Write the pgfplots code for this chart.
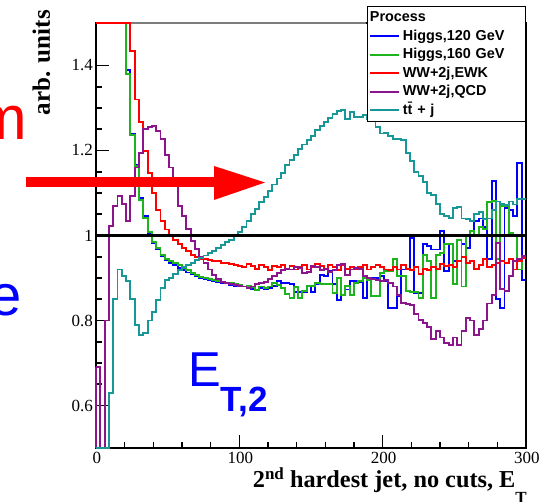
\documentclass[border=0pt]{standalone}
\usepackage{fontspec}
\setmainfont{Liberation Serif}
\newfontfamily\sansfont{Liberation Sans}
\usepackage{pgfplots}
\usepackage{pgfplotstable}
\pgfplotsset{compat=1.18}

\definecolor{hblue}{RGB}{0,0,255}
\definecolor{hgreen}{RGB}{30,180,30}
\definecolor{ewkred}{RGB}{255,0,0}
\definecolor{qcdpurple}{RGB}{140,20,140}
\definecolor{ttteal}{RGB}{25,150,150}
\definecolor{framegray}{RGB}{125,125,125}

% ratio to the reference shape, 3 GeV bins; values beyond the range sit on the frame
\pgfplotstableread{
x   blue   green  red    purple teal
0   1.5    1.5    1.5    0.69   0.5
3   1.5    1.5    1.5    0.5    0.5
6   1.5    1.5    1.5    0.80   0.5
9   1.5    1.5    1.5    1.022  0.63
12  1.5    1.5    1.5    1.069  0.85
15  1.5    1.5    1.5    1.093  0.92
18  1.5    1.5    1.5    1.075  0.905
21  1.39   1.379  1.5    1.034  0.893
24  1.24   1.236  1.434  1.093  0.85
27  1.167  1.164  1.32   1.16   0.79
30  1.088  1.083  1.266  1.195  0.765
33  1.045  1.042  1.198  1.25   0.77
36  1.006  1.008  1.147  1.256  0.80
39  0.983  0.985  1.10   1.258  0.82
42  0.968  0.97   1.061  1.246  0.849
45  0.952  0.955  1.034  1.226  0.876
48  0.942  0.944  1.014  1.19   0.895
51  0.936  0.94   0.998  1.16   0.90
54  0.93   0.935  0.99   1.12   0.91
57  0.924  0.93   0.98   1.07   0.918
60  0.918  0.924  0.971  1.045  0.925
63  0.913  0.918  0.963  1.015  0.93
66  0.909  0.912  0.955  0.988  0.936
69  0.905  0.908  0.95   0.968  0.942
72  0.901  0.903  0.945  0.95   0.948
75  0.897  0.90   0.945  0.935  0.953
78  0.894  0.897  0.942  0.92   0.958
81  0.892  0.895  0.94   0.907  0.963
84  0.89   0.893  0.94   0.897  0.97
87  0.889  0.891  0.936  0.89   0.977
90  0.887  0.889  0.936  0.888  0.984
93  0.884  0.888  0.933  0.886  0.99
96  0.882  0.886  0.93   0.884  0.998
99  0.88   0.883  0.928  0.882  1.008
102 0.88   0.88   0.925  0.88   1.02
105 0.878  0.881  0.932  0.876  1.034
108 0.875  0.878  0.928  0.88   1.05
111 0.872  0.872  0.922  0.885  1.062
114 0.876  0.88   0.93   0.889  1.078
117 0.875  0.877  0.925  0.89   1.09
120 0.877  0.88   0.918  0.897  1.104
123 0.882  0.888  0.928  0.905  1.12
126 0.893  0.883  0.925  0.912  1.134
129 0.889  0.876  0.93   0.918  1.148
132 0.888  0.862  0.922  0.922  1.165
135 0.885  0.853  0.928  0.92   1.178
138 0.866  0.878  0.92   0.926  1.19
141 0.866  0.853  0.925  0.924  1.203
144 0.866  0.87   0.93   0.912  1.214
147 0.88   0.881  0.92   0.915  1.225
150 0.866  0.881  0.925  0.928  1.235
153 0.885  0.889  0.932  0.925  1.248
156 0.908  0.885  0.928  0.918  1.258
159 0.904  0.885  0.922  0.922  1.266
162 0.916  0.885  0.93   0.915  1.276
165 0.885  0.865  0.925  0.918  1.285
168 0.849  0.90   0.918  0.93   1.293
171 0.861  0.861  0.93   0.932  1.295
174 0.873  0.881  0.922  0.908  1.274
177 0.893  0.861  0.926  0.92   1.29
180 0.893  0.889  0.92   0.924  1.278
183 0.89   0.893  0.925  0.922  1.278
186 0.853  0.9    0.93   0.904  1.283
189 0.896  0.896  0.92   0.90   1.275
192 0.90   0.857  0.925  0.897  1.28
195 0.90   0.857  0.93   0.895  1.255
198 0.904  0.912  0.925  0.893  1.24
201 0.893  0.916  0.92   0.896  1.242
204 0.83   0.916  0.918  0.889  1.235
207 0.83   0.944  0.925  0.88   1.228
210 0.857  0.904  0.92   0.861  1.226
213 0.92   0.904  0.93   0.842  1.225
216 0.92   0.869  0.922  0.838  1.195
219 0.995  0.866  0.918  0.836  1.175
222 0.865  0.866  0.925  0.815  1.15
225 0.865  0.853  0.91   0.802  1.14
228 0.979  0.955  0.922  0.795  1.125
231 0.975  0.94   0.918  0.785  1.1
234 0.967  0.853  0.925  0.757  1.095
237 0.967  0.955  0.922  0.775  1.075
240 1.01   0.958  0.932  0.76   1.05
243 0.916  0.979  0.928  0.747  1.045
246 0.979  0.979  0.93   0.742  1.042
249 0.94   0.885  0.925  0.76   1.065
252 0.99   0.99   0.94   0.742  1.068
255 0.979  0.88   0.95   0.775  1.04
258 0.97   1.0    0.935  0.805  1.038
261 1.0    1.01   0.94   0.8    1.035
264 1.035  1.0    0.922  0.765  1.05
267 1.04   1.02   0.93   0.78   1.055
270 1.02   1.015  0.945  0.8    1.038
273 0.945  1.078  0.925  0.84   1.04
276 1.128  1.082  0.93   0.86   1.06
279 0.85   0.945  0.935  0.983  1.08
282 0.83   1.07   0.94   0.875  1.075
285 1.065  1.07   0.935  0.87   1.072
288 1.06   1.005  0.945  0.905  1.08
291 1.045  1.0    0.92   0.94   1.073
294 1.17   0.92   0.94   0.945  1.085
297 0.895  0.95   0.948  0.952  1.085
300 0.895  0.95   0.948  0.952  1.085
}\ratios

\begin{document}
\begin{tikzpicture}[x=1pt,y=1pt]
\useasboundingbox (0,0) rectangle (550,502);
\clip (0,0) rectangle (550,502);

\begin{axis}[
  at={(96pt,54pt)}, anchor=south west,
  scale only axis, width=430pt, height=425pt,
  xmin=0, xmax=300, ymin=0.5, ymax=1.5,
  clip=false,
  const plot,
  axis line style={black, line width=1.8pt},
  xtick={0,100,200,300}, minor x tick num=4,
  ytick={0.6,0.8,1,1.2,1.4}, minor y tick num=3,
  xtick pos=left, ytick pos=left,
  tick align=inside,
  major tick length=13pt, minor tick length=6pt,
  every tick/.style={black, line width=1.6pt},
  /pgf/number format/assume math mode=true,
  ticklabel style={font=\fontsize{17}{17}\selectfont, inner sep=0pt},
  xticklabel style={yshift=-4pt, xshift=1pt},
  yticklabel style={xshift=-3pt},
  xlabel={2\raisebox{8pt}{\fontsize{17}{17}\selectfont nd} hardest jet, no cuts, E\raisebox{-16pt}{\fontsize{17}{17}\selectfont T}},
  xlabel style={at={(axis description cs:1,0)}, anchor=base east, yshift=-40pt, xshift=1pt, inner sep=0pt, font=\bfseries\fontsize{24.3}{24.3}\selectfont},
  ylabel={arb. units},
  ylabel style={at={([xshift=-46pt,yshift=13pt]axis description cs:0,1)}, anchor=base east, inner sep=0pt, font=\bfseries\fontsize{25}{25}\selectfont},
  legend image code/.code={\draw[#1] (0pt,0pt) -- (29pt,0pt);},
  legend style={at={([yshift=17pt]axis description cs:1,1)}, anchor=north east,
    draw=black, line width=1.2pt, fill=white, inner sep=2pt, row sep=0pt,
    font=\sansfont\bfseries\fontsize{14.4}{14.4}\selectfont,
    nodes={inner sep=2.5pt, text height=10.5pt, text depth=3pt}},
  legend cell align=left,
]
\addlegendimage{empty legend}
\addlegendentry[text width=118pt]{\hspace*{-33pt}Process}

\addplot[hblue, line width=1.9pt] table[y=blue] {\ratios};
\addlegendentry[text width=118pt]{Higgs,120 GeV}
\addplot[hgreen, line width=1.9pt] table[y=green] {\ratios};
\addlegendentry[text width=118pt]{Higgs,160 GeV}
\addplot[ewkred, line width=1.9pt] table[y=red] {\ratios};
\addlegendentry[text width=118pt]{WW+2j,EWK}
\addplot[qcdpurple, line width=1.9pt] table[y=purple] {\ratios};
\addlegendentry[text width=118pt]{WW+2j,QCD}
\addplot[qcdpurple, line width=1.9pt, forget plot] coordinates {(0,0.5) (0,0.69)};
\addplot[ttteal, line width=1.9pt] table[y=teal] {\ratios};
\addlegendentry[text width=118pt]{t\=t + j}

% unit ratio reference
\addplot[black, line width=2.2pt, forget plot] coordinates {(0,1) (300,1)};
\end{axis}

% lighter upper edge of the frame, left of the legend box
\draw[framegray, line width=1.8pt] (131,479) -- (366,479);

% slide annotations drawn over the plot
\fill[red] (26,315) rectangle (214,324.5);
\fill[red] (214,336) -- (265,319.5) -- (214,302) -- cycle;
\node[anchor=base east, inner sep=0pt, text=red, font=\sansfont\fontsize{62}{62}\selectfont] at (27,362) {m};
\node[anchor=base east, inner sep=0pt, text=blue, font=\sansfont\fontsize{58}{58}\selectfont] at (22,186) {e};
\node[anchor=base west, inner sep=0pt, text=blue, font=\sansfont\fontsize{49}{49}\selectfont] at (188,115)
  {E\raisebox{-25pt}{\bfseries\fontsize{35}{35}\selectfont T,2}};
\end{tikzpicture}
\end{document}
